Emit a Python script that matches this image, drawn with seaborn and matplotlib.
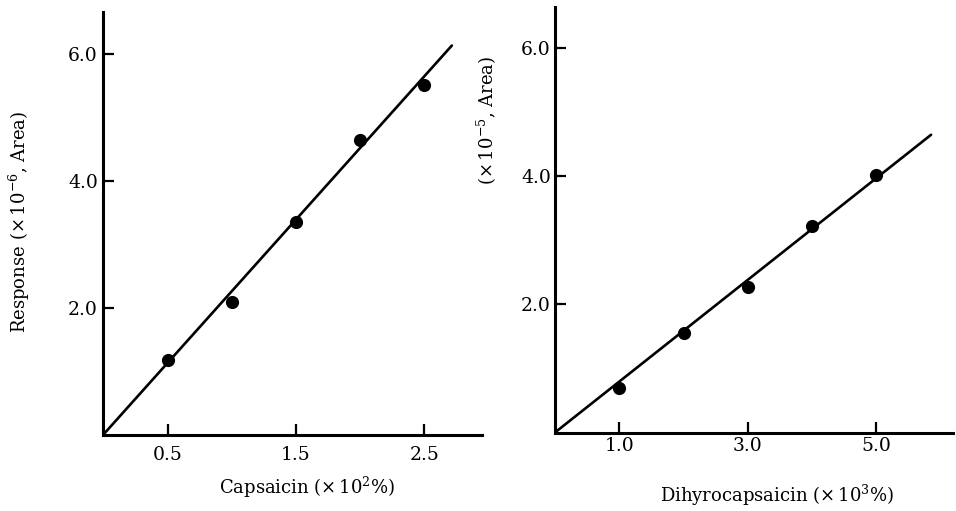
import matplotlib
matplotlib.use('Agg')
import matplotlib.pyplot as plt
import pandas as pd
import seaborn as sns

# Data
caps_x = [0.5, 1.0, 1.5, 2.0, 2.5]
caps_y = [1.18, 2.09, 3.35, 4.64, 5.51]
caps_fit_x = [0.0, 2.715]
caps_fit_y = [0.0, 6.13]

dihy_x = [1.0, 2.0, 3.0, 4.0, 5.0]
dihy_y = [0.69, 1.55, 2.28, 3.22, 4.02]
dihy_fit_x = [0.0, 5.85]
dihy_fit_y = [0.0, 4.65]

caps_xticks = [0.5, 1.5, 2.5]
caps_yticks = [2.0, 4.0, 6.0]
dihy_xticks = [1.0, 3.0, 5.0]
dihy_yticks = [2.0, 4.0, 6.0]

sns.set_style('ticks')
plt.rcParams['font.family'] = ['DejaVu Serif']
plt.rcParams['mathtext.fontset'] = 'dejavuserif'
plt.rcParams['text.color'] = 'black'

fig = plt.figure(figsize=(9.56, 5.11), dpi=100)
ax1 = fig.add_axes([0.1082, 0.1497, 0.396, 0.827])
ax2 = fig.add_axes([0.5805, 0.1536, 0.4163, 0.8333])

panels = [
    (ax1, caps_x, caps_y, caps_fit_x, caps_fit_y, caps_xticks, caps_yticks, (0, 2.95), (0, 6.66)),
    (ax2, dihy_x, dihy_y, dihy_fit_x, dihy_fit_y, dihy_xticks, dihy_yticks, (0, 6.19), (0, 6.65)),
]

for ax, x, y, fx, fy, xt, yt, xl, yl in panels:
    pts = pd.DataFrame({'x': x, 'y': y})
    fit = pd.DataFrame({'x': fx, 'y': fy})
    sns.lineplot(data=fit, x='x', y='y', ax=ax, color='black', linewidth=1.9)
    sns.scatterplot(data=pts, x='x', y='y', ax=ax, color='black', s=90,
                    edgecolor='black', linewidth=0, zorder=3)
    ax.set_xlim(*xl)
    ax.set_ylim(*yl)
    ax.set_xticks(xt)
    ax.set_xticklabels([f'{v:.1f}' for v in xt])
    ax.set_yticks(yt)
    ax.set_yticklabels([f'{v:.1f}' for v in yt])
    for s in ['top', 'right']:
        ax.spines[s].set_visible(False)
    for s in ['left', 'bottom']:
        ax.spines[s].set_linewidth(2.2)
        ax.spines[s].set_color('black')
    ax.tick_params(direction='in', length=8, width=1.6, labelsize=13.5,
                   colors='black', labelcolor='black')
    ax.set_xlabel('')
    ax.set_ylabel('')
    ax.patch.set_alpha(0)

ax1.tick_params(axis='x', pad=8)
ax1.tick_params(axis='y', pad=4)
ax2.tick_params(axis='x', pad=3)
ax2.tick_params(axis='y', pad=3)

fig.text(307 / 956, 1 - 487 / 511, r'Capsaicin ($\times\,10^{2}$%)',
         ha='center', va='center', fontsize=13)
fig.text(777 / 956, 1 - 495 / 511, r'Dihyrocapsaicin ($\times\,10^{3}$%)',
         ha='center', va='center', fontsize=13)
fig.text(19.5 / 956, 1 - 222 / 511, r'Response ($\times\,10^{-6}$, Area)',
         ha='center', va='center', rotation=90, fontsize=13)
fig.text(487 / 956, 1 - 120 / 511, r'($\times\,10^{-5}$, Area)',
         ha='center', va='center', rotation=90, fontsize=13)

fig.savefig('out.png', dpi=100)
